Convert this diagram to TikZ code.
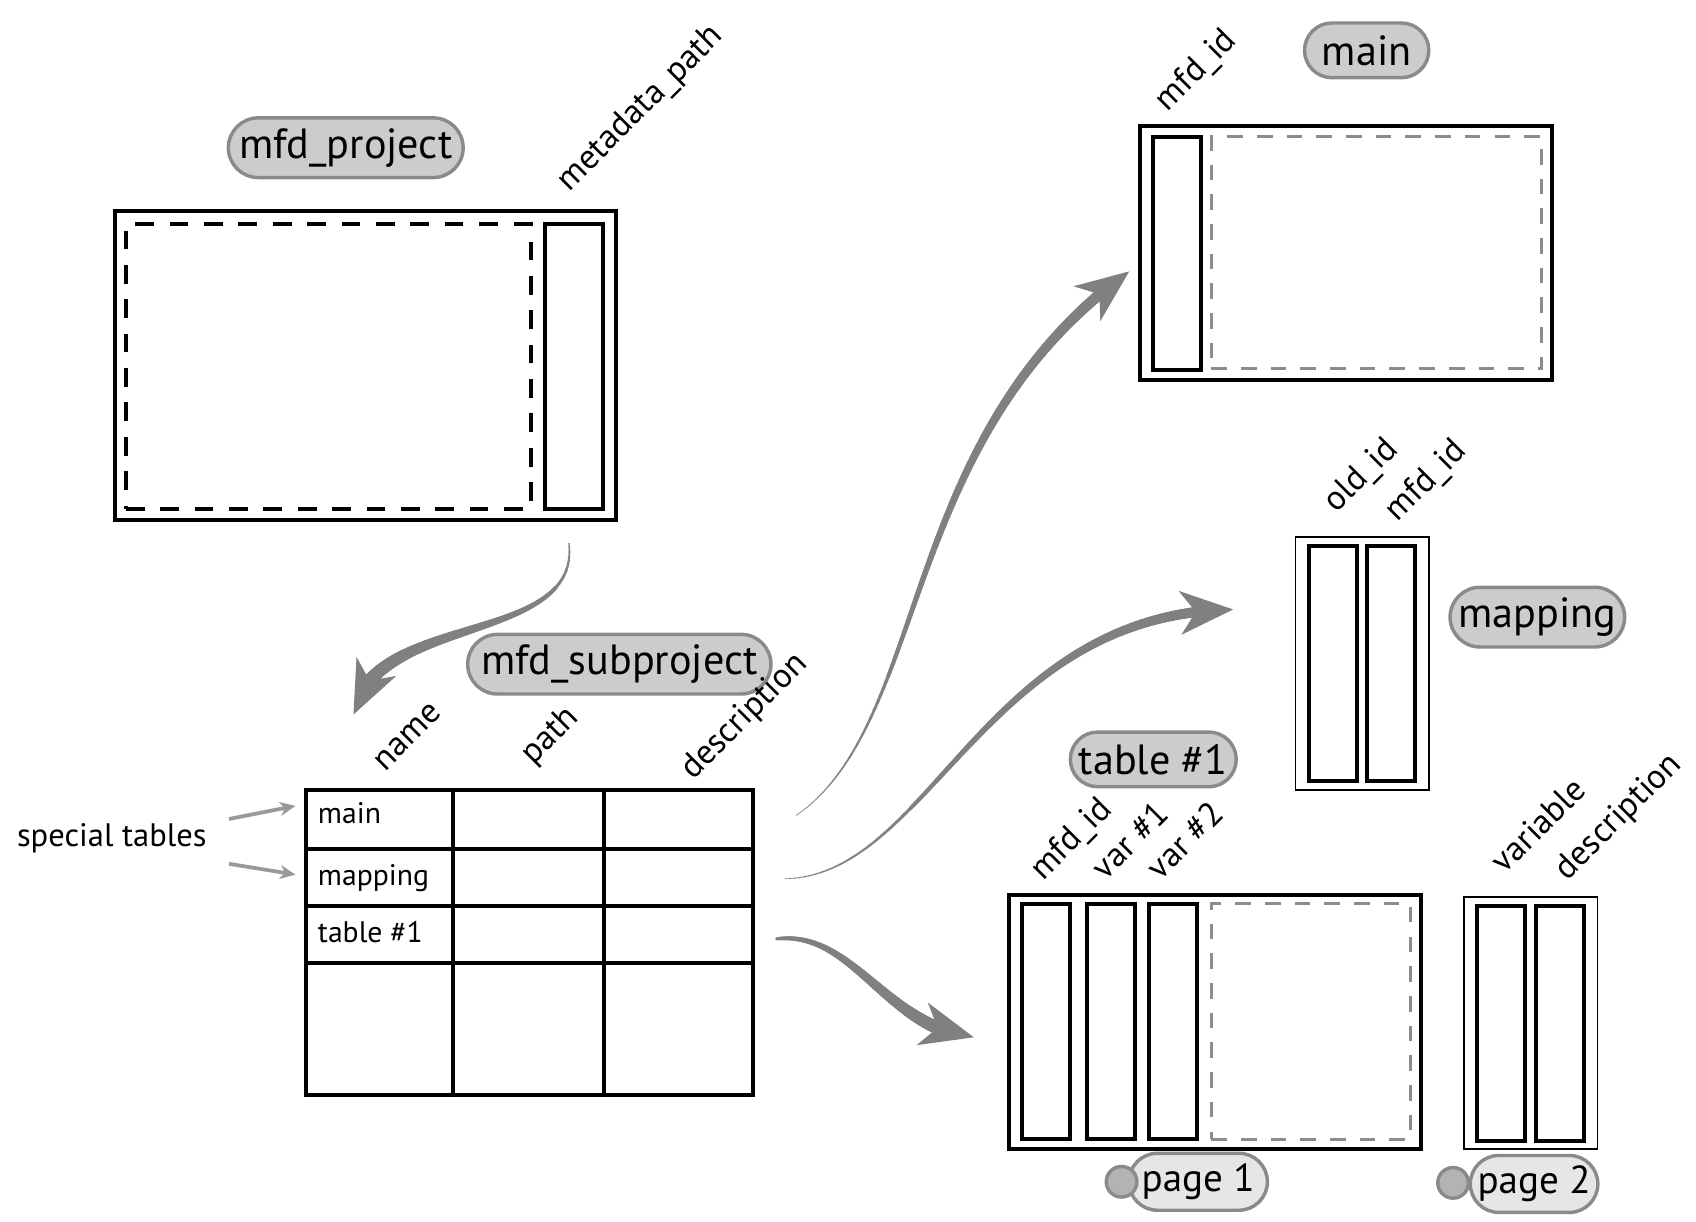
\documentclass[tikz,border=0pt]{standalone}
\usepackage{fontspec}
\setmainfont{PT Sans}
\usepackage{tikz}
\usetikzlibrary{shapes,arrows.meta,positioning,fit,decorations.markings}
\def\px{0.35pt}
\definecolor{pillfill}{HTML}{CCCCCC}
\definecolor{pillline}{HTML}{8A8A8A}
\definecolor{pagefill}{HTML}{E6E6E6}
\definecolor{dotfill}{HTML}{B3B3B3}
\definecolor{arrowgray}{HTML}{808080}
\definecolor{dashgray}{HTML}{8C8C8C}

\begin{document}
\begin{tikzpicture}[x=\px,y=-\px]
    \tikzstyle{outer box}=[draw=black, line width=1.3pt, inner sep=0pt]
    \tikzstyle{thin box}=[draw=black, line width=0.6pt, inner sep=0pt]
    \tikzstyle{col box}=[draw=black, line width=1.3pt, inner sep=0pt]
    \tikzstyle{dashed area}=[draw=black, line width=1.3pt, dash pattern=on 6pt off 5pt, inner sep=0pt]
    \tikzstyle{grey area}=[draw=dashgray, line width=1pt, dash pattern=on 5pt off 4.5pt, inner sep=0pt]
    \tikzstyle{grid line}=[draw=black, line width=1.3pt]
    \tikzstyle{pill}=[rounded rectangle, fill=pillfill, draw=pillline, line width=1.1pt, minimum height=50*\px, inner xsep=2pt, font=\fontsize{13.5}{16}\selectfont]
    \tikzstyle{page pill}=[pill, fill=pagefill, font=\fontsize{12.5}{15}\selectfont]
    \tikzstyle{page dot}=[circle, fill=dotfill, draw=pillline, line width=1.1pt, minimum size=28*\px, inner sep=0pt]
    \tikzstyle{col head}=[anchor=base west, rotate=45, inner sep=0pt, font=\fontsize{11}{13}\selectfont]
    \tikzstyle{cell text}=[anchor=base west, inner sep=0pt, font=\fontsize{9.5}{11}\selectfont]
    \tikzstyle{thin arrow}=[draw=arrowgray!80, line width=1.2pt, -{Stealth[length=5pt,width=4.5pt]}]
    \tikzset{taper/.style n args={3}{postaction={decorate}, decoration={markings,
        mark=between positions 0 and -12pt step 0.4pt with {
            \pgfkeysgetvalue{/pgf/decoration/mark info/distance from start}{\dst}
            \pgfmathsetmacro\rad{#1+(#2-#1)*\dst/\pgfdecoratedpathlength}
            \fill[arrowgray] (0,0) circle (\rad pt);},
        mark=at position -12pt with {
            \draw[arrowgray, line width=1pt, -{Stealth[length=17pt,width=14pt,inset=5pt]}] (0,0) -- (#3);}}}}

    \useasboundingbox (0,0) rectangle (1550,1116);

    % mfd_project
    \node[outer box, fit={(105,193) (563,475)}] (proj) {};
    \node[dashed area, fit={(115,205) (485,465)}] (proj-rest) {};
    \node[col box, fit={(498,205) (551,465)}] (proj-meta) {};
    \node[pill, minimum width=226*\px] (proj-lbl) at (316,135) {mfd\_project};
    \node[col head] (proj-h) at (520,176) {metadata\_path};

    % main
    \node[outer box, fit={(1042,115) (1418,347)}] (main) {};
    \node[col box, fit={(1054,125) (1098,338)}] (main-id) {};
    \node[grey area, fit={(1107,125) (1409,337)}] (main-rest) {};
    \node[pill, minimum width=125*\px] (main-lbl) at (1249,46) {main};
    \node[col head] (main-h) at (1067,103) {mfd\_id};

    % mapping
    \node[thin box, fit={(1184,491) (1306,722)}] (map) {};
    \foreach \name/\x in {1/1196,2/1249}
        \node[col box, fit={(\x,499) (\x+44,714)}] (map-\name) {};
    \node[pill, minimum width=171*\px] (map-lbl) at (1405,564) {mapping};
    \node[col head] (map-h1) at (1221,470) {old\_id};
    \node[col head] (map-h2) at (1277,478) {mfd\_id};

    % table #1, page 1
    \node[outer box, fit={(922,818) (1299,1050)}] (tab) {};
    \foreach \name/\x in {1/934,2/993,3/1050}
        \node[col box, fit={(\x,826) (\x+44,1041)}] (tab-\name) {};
    \node[grey area, fit={(1107,826) (1289,1041)}] (tab-rest) {};
    \node[pill, minimum width=163*\px] (tab-lbl) at (1054,694) {table \#1};
    \foreach \name/\x/\txt in {1/953/mfd\_id, 2/1010/var \#1, 3/1060/var \#2}
        \node[col head] (tab-h\name) at (\x,806) {\txt};
    \node[page pill, minimum width=126*\px] (pg1) at (1095,1080) {page 1};
    \node[page dot] (pg1-dot) at (1025,1080) {};

    % table #1, page 2
    \node[thin box, fit={(1338,820) (1460,1050)}] (var) {};
    \foreach \name/\x in {1/1350,2/1404}
        \node[col box, fit={(\x,828) (\x+44,1043)}] (var-\name) {};
    \node[col head] (var-h1) at (1375,800) {variable};
    \node[col head] (var-h2) at (1432,806) {description};
    \node[page pill, minimum width=128*\px] (pg2) at (1402,1082) {page 2};
    \node[page dot] (pg2-dot) at (1328,1081) {};

    % mfd_subproject
    \node[outer box, fit={(280,722) (688,1001)}] (sub) {};
    \foreach \x in {414,552}
        \draw[grid line] (\x,722) -- (\x,1001);
    \foreach \y in {776,828,880}
        \draw[grid line] (280,\y) -- (688,\y);
    \foreach \name/\y/\txt in {main/753/main, map/809/mapping, tab/861/table \#1}
        \node[cell text] (c-\name) at (290,\y) {\txt};
    \node[pill, minimum width=273*\px] (sub-lbl) at (566,607) {mfd\_subproject};
    \node[col head] (sub-h1) at (352,706) {name};
    \node[col head] (sub-h2) at (487,700) {path};
    \node[col head] (sub-h3) at (633,714) {description};

    % special tables
    \node[anchor=base west, inner sep=0pt, font=\fontsize{10.4}{12}\selectfont] (spec) at (15,774) {special tables};
    \draw[thin arrow] ([shift={(20,-18)}]spec.east) -- ([shift={(-20,-7)}]c-main.west);
    \draw[thin arrow] ([shift={(20,23)}]spec.east) -- ([shift={(-20,-3)}]c-map.west);

    % big arrows
    \coordinate (from-proj) at (520,497);
    \coordinate (to-sub) at (323,653);
    \coordinate (from-main) at (728,745);
    \coordinate (to-main) at (1032,248);
    \coordinate (from-map) at (718,803);
    \coordinate (to-map) at (1127,557);
    \coordinate (from-tab) at (710,858);
    \coordinate (to-tab) at (890,948);
    \path[taper={0.3}{2.4}{to-sub}] (from-proj) .. controls (530,590) and (340,560) .. (to-sub);
    \path[taper={0.2}{1.9}{to-main}] (from-main) .. controls (850,660) and (820,400) .. (to-main);
    \path[taper={0.2}{1.8}{to-map}] (from-map) .. controls (850,800) and (900,560) .. (to-map);
    \path[taper={0.6}{2.4}{to-tab}] (from-tab) .. controls (780,850) and (810,940) .. (to-tab);

\end{tikzpicture}
\end{document}
